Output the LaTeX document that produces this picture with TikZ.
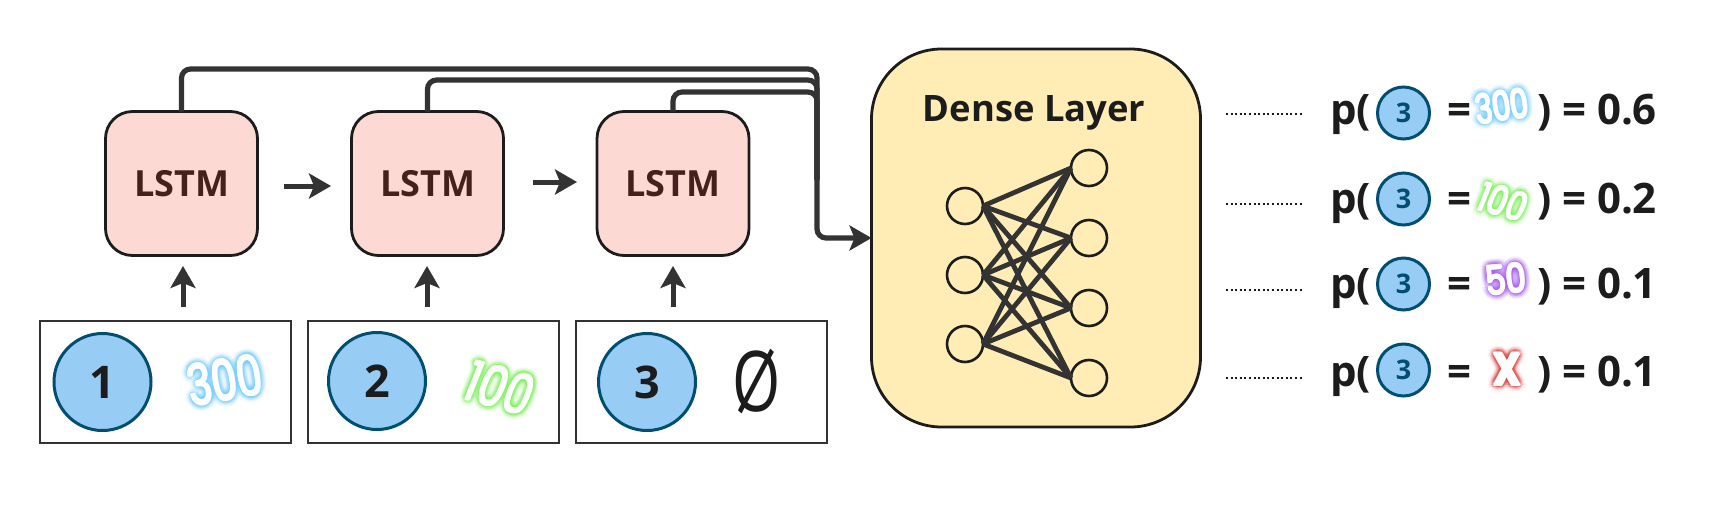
\documentclass[tikz,border=0pt]{standalone}
\usepackage{fontspec}
\setmainfont{Open Sans}
\newfontfamily\glowfont{Poppins}
\usetikzlibrary{arrows.meta,calc}
\definecolor{ink}{HTML}{1C1C1C}
\definecolor{wire}{HTML}{333333}
\definecolor{lstmfill}{HTML}{FDD9D4}
\definecolor{lstmtext}{HTML}{45201C}
\definecolor{densefill}{HTML}{FFEDB5}
\definecolor{tokenfill}{HTML}{97CCF5}
\definecolor{tokenline}{HTML}{004F73}
\definecolor{glowblue}{HTML}{6FCFFF}
\definecolor{glowgreen}{HTML}{7CF55A}
\definecolor{glowviolet}{HTML}{A24DF5}
\definecolor{glowred}{HTML}{E04545}
\newcommand{\fsz}[1]{\fontsize{#1}{#1}\selectfont}
% name, x, y, glow colour, rotation, slant, size, xscale, text
\newcommand{\glowlabel}[9]{%
  \foreach \rr/\oo in {7/0.05,5.5/0.08,4/0.12,2.5/0.2}{
    \foreach \aa in {0,30,...,330}{
      \node[glowbit,text=#4,text opacity=\oo,rotate=#5,font=\glowfont\fsz{#7},xslant=#6,xscale=#8]
        (#1-\rr-\aa) at ($(#2,#3)+(\aa:\rr)$) {#9};
    }
  }
  \foreach \aa in {0,60,...,300}{
    \node[glowbit,text=white,rotate=#5,font=\glowfont\fsz{#7},xslant=#6,xscale=#8]
      (#1-c-\aa) at ($(#2,#3)+(\aa:1)$) {#9};
  }
  \node[glowbit,text=white,rotate=#5,font=\glowfont\fsz{#7},xslant=#6,xscale=#8] (#1) at (#2,#3) {#9};
}
\tikzset{
  glowbit/.style={inner sep=0pt,outer sep=0pt},
  lstmbox/.style={draw=ink,line width=2.8pt,fill=lstmfill,rounded corners=27pt,
    minimum width=152pt,minimum height=144pt,inner sep=0pt,outer sep=0pt,
    text=lstmtext,font=\bfseries\fsz{36}},
  inbox/.style={draw=wire,line width=2pt,minimum width=251pt,minimum height=122pt,inner sep=0pt,outer sep=0pt},
  token/.style={circle,draw=tokenline,line width=3pt,fill=tokenfill,minimum size=97pt,inner sep=0pt,outer sep=0pt,
    text=ink,font=\bfseries\fsz{45}},
  smalltoken/.style={circle,draw=tokenline,line width=3pt,fill=tokenfill,minimum size=52pt,inner sep=0pt,outer sep=0pt,
    text=tokenline,font=\bfseries\fsz{27}},
  neuron/.style={circle,draw=ink,line width=2.6pt,fill=densefill,minimum size=36pt,inner sep=0pt,outer sep=0pt},
  tip/.style={-{Stealth[length=22pt,width=25pt,inset=5pt]}},
  arrowline/.style={draw=wire,line width=5pt,tip},
  bus/.style={draw=wire,line width=5.2pt,rounded corners=9pt},
  edge/.style={draw=wire,line width=4.8pt},
  dots/.style={draw=ink,line width=2.2pt,dash pattern=on 2pt off 2.6pt},
  rowtext/.style={inner sep=0pt,outer sep=0pt,anchor=base west,text=ink,font=\bfseries\fsz{42}},
}
\begin{document}
\begin{tikzpicture}[x=1pt,y=-1pt]
\useasboundingbox (0,0) rectangle (1719,512);
\fill[white] (0,0) rectangle (1719,512);

% LSTM cells
\node[lstmbox] (lstm1) at (181.5,183.5) {LSTM};
\node[lstmbox] (lstm2) at (427.5,183.5) {LSTM};
\node[lstmbox] (lstm3) at (673,183.5) {LSTM};

% input boxes
\node[inbox] (box1) at (165,382) {};
\node[inbox] (box2) at (433.5,382) {};
\node[inbox] (box3) at (701.5,382) {};
\node[token] (t1) at (102.5,382) {1};
\node[token] (t2) at (377,381) {2};
\node[token] (t3) at (647,382) {3};
\glowlabel{n300a}{225}{380}{glowblue}{10}{0}{56}{0.72}{300}
\glowlabel{n100a}{500}{388}{glowgreen}{-16}{0.1}{56}{0.76}{100}
\node[inner sep=0pt,outer sep=0pt,text=ink,font=\fsz{62},yscale=1.35] (empty) at (757,382) {Ø};

% arrows between
\coordinate (u1a) at (183,307); \coordinate (u1b) at (183,266);
\coordinate (u2a) at (427,307); \coordinate (u2b) at (427,266);
\coordinate (u3a) at (673,307); \coordinate (u3b) at (673,266);
\draw[arrowline] (u1a) -- (u1b);
\draw[arrowline] (u2a) -- (u2b);
\draw[arrowline] (u3a) -- (u3b);
\coordinate (h1a) at (284,186); \coordinate (h1b) at (331,186);
\coordinate (h2a) at (533,182); \coordinate (h2b) at (577,182);
\draw[arrowline] (h1a) -- (h1b);
\draw[arrowline] (h2a) -- (h2b);

% dense layer
\node[draw=ink,line width=2.8pt,fill=densefill,rounded corners=70pt,minimum width=329pt,minimum height=378pt,
  inner sep=0pt,outer sep=0pt] (dense) at (1036,238) {};
\node[inner sep=0pt,text=ink,font=\bfseries\fsz{36.4}] (densetitle) at (1034,113) {Dense Layer};

% bus
\coordinate (corner) at (817,238);
\coordinate (b1) at (817,69);
\coordinate (b2) at (817,80);
\coordinate (b3) at (817,92);
\coordinate (bend) at (817,180);
\draw[bus] (lstm2.north) |- (b2) -- (bend);
\draw[bus] (lstm3.north) |- (b3) -- (bend);
\draw[bus,tip] (lstm1.north) |- (b1) -- (corner) -- (dense.west);

% network
\node[neuron] (i1) at (965,206) {};
\node[neuron] (i2) at (965,275) {};
\node[neuron] (i3) at (965,344) {};
\node[neuron] (o1) at (1089,168) {};
\node[neuron] (o2) at (1089,238) {};
\node[neuron] (o3) at (1089,308) {};
\node[neuron] (o4) at (1089,378) {};
\foreach \i in {1,2,3}{\foreach \o in {1,2,3,4}{
  \draw[edge] (i\i.east) -- (o\o.west);
}}

% rows
\foreach \k/\cy/\by/\dy/\val in {1/113/124/114/0.6,2/199/213/204/0.2,3/284/298/290/0.1,4/370/386/378/0.1}{
  \coordinate (da\k) at (1226,\dy);
  \coordinate (db\k) at (1303,\dy);
  \draw[dots] (da\k) -- (db\k);
  \node[rowtext] (p\k) at (1330,\by) {p(};
  \node[smalltoken] (s\k) at (1403.5,\cy) {3};
  \node[rowtext] (eq\k) at (1447,\by) {=};
  \node[rowtext] (v\k) at (1537,\by) {) = \val};
}
\glowlabel{n300b}{1502}{106}{glowblue}{8}{0}{40}{0.72}{300}
\glowlabel{n100b}{1503}{202}{glowgreen}{-16}{0.1}{40}{0.76}{100}
\glowlabel{n50b}{1506}{279}{glowviolet}{5}{0}{40}{0.8}{50}
\glowlabel{nxb}{1507}{369}{glowred}{0}{0}{46}{0.85}{\bfseries X}
\end{tikzpicture}
\end{document}
